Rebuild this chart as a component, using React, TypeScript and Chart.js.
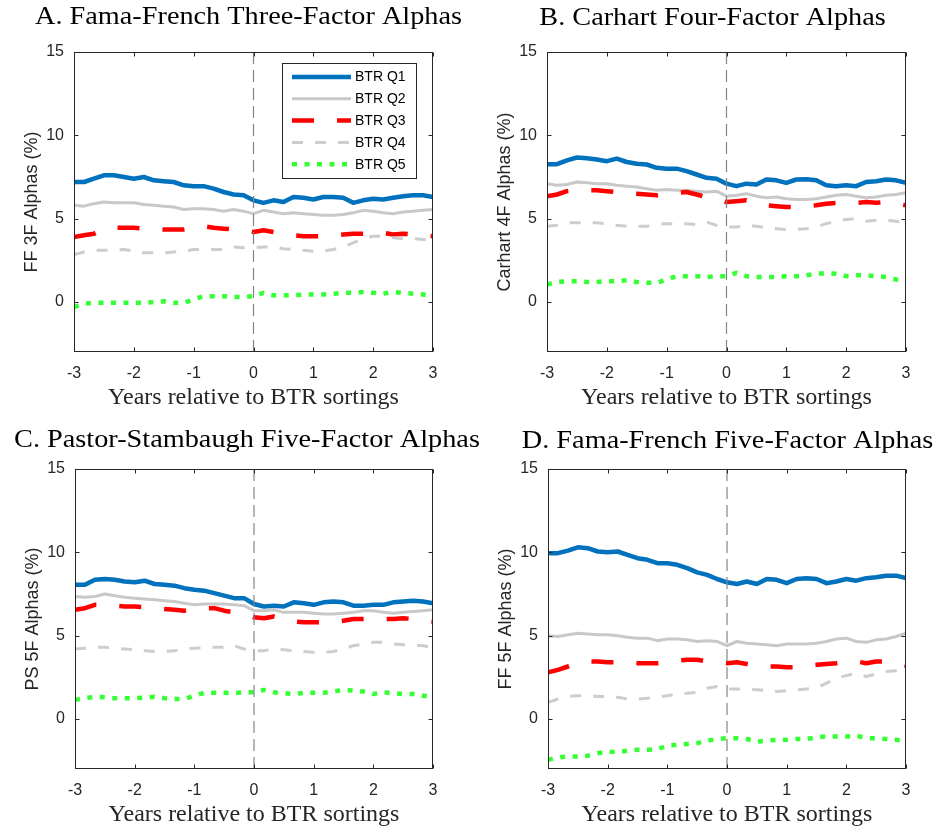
import React, { useEffect, useRef } from "react";
import { Chart, registerables } from "chart.js";

Chart.register(...registerables);

// Months relative to the BTR sorting date (x = months / 12 years)
const MONTHS = [-36, -34, -32, -30, -28, -26, -24, -22, -20, -18, -16, -14, -12, -10, -8, -6, -4, -2, 0, 2, 4, 6, 8, 10, 12, 14, 16, 18, 20, 22, 24, 26, 28, 30, 32, 34, 36];
const X_TICKS = [-3, -2, -1, 0, 1, 2, 3];
const Y_TICKS = [0, 5, 10, 15];
const Y_MIN = -3;
const Y_MAX = 15;
const SERIES_LABELS = ["BTR Q1", "BTR Q2", "BTR Q3", "BTR Q4", "BTR Q5"];
const X_TITLE = "Years relative to BTR sortings";

// Panel A: Fama-French three-factor alphas
const A_Q1 = [7.2, 7.2, 7.4, 7.6, 7.6, 7.5, 7.4, 7.5, 7.3, 7.25, 7.2, 7.0, 6.95, 6.95, 6.8, 6.6, 6.45, 6.4, 6.1, 5.95, 6.1, 6.0, 6.3, 6.25, 6.15, 6.3, 6.3, 6.25, 5.95, 6.1, 6.2, 6.15, 6.25, 6.35, 6.4, 6.4, 6.3];
const A_Q2 = [5.8, 5.75, 5.9, 6.0, 5.95, 5.95, 5.95, 5.85, 5.8, 5.75, 5.7, 5.55, 5.6, 5.6, 5.55, 5.45, 5.55, 5.45, 5.3, 5.5, 5.4, 5.3, 5.35, 5.3, 5.25, 5.2, 5.2, 5.25, 5.35, 5.5, 5.45, 5.35, 5.3, 5.4, 5.45, 5.5, 5.55];
const A_Q3 = [3.9, 4.0, 4.1, 4.4, 4.45, 4.45, 4.45, 4.4, 4.4, 4.35, 4.35, 4.35, 4.45, 4.55, 4.45, 4.4, 4.35, 4.3, 4.2, 4.3, 4.2, 4.1, 4.0, 3.95, 3.95, 3.95, 4.0, 4.05, 4.1, 4.1, 4.2, 4.15, 4.05, 4.1, 4.05, 4.0, 3.95];
const A_Q4 = [2.85, 3.0, 3.1, 3.1, 3.1, 3.15, 3.05, 2.95, 2.95, 2.95, 3.0, 3.05, 3.15, 3.15, 3.15, 3.15, 3.3, 3.25, 3.25, 3.3, 3.3, 3.2, 3.15, 3.1, 3.05, 3.05, 3.15, 3.3, 3.55, 3.8, 3.95, 3.95, 3.85, 3.8, 3.8, 3.75, 3.7];
const A_Q5 = [-0.3, -0.1, -0.05, -0.05, -0.05, -0.05, -0.05, -0.05, 0.0, 0.05, -0.05, -0.05, 0.15, 0.35, 0.35, 0.35, 0.3, 0.3, 0.35, 0.55, 0.4, 0.4, 0.4, 0.45, 0.45, 0.45, 0.5, 0.55, 0.55, 0.6, 0.55, 0.5, 0.6, 0.55, 0.5, 0.45, 0.35];

// Panel B: Carhart four-factor alphas
const B_Q1 = [8.27, 8.27, 8.5, 8.67, 8.62, 8.55, 8.45, 8.6, 8.4, 8.3, 8.25, 8.05, 8.0, 8.0, 7.85, 7.65, 7.45, 7.4, 7.1, 6.95, 7.1, 7.05, 7.35, 7.3, 7.15, 7.35, 7.37, 7.3, 7.0, 6.95, 7.0, 6.95, 7.2, 7.25, 7.35, 7.3, 7.15];
const B_Q2 = [7.1, 7.0, 7.05, 7.2, 7.15, 7.1, 7.1, 7.0, 6.95, 6.9, 6.8, 6.7, 6.75, 6.7, 6.7, 6.65, 6.6, 6.65, 6.35, 6.4, 6.5, 6.35, 6.25, 6.3, 6.2, 6.15, 6.15, 6.2, 6.3, 6.4, 6.45, 6.35, 6.25, 6.3, 6.4, 6.45, 6.55];
const B_Q3 = [6.35, 6.45, 6.65, 6.7, 6.7, 6.7, 6.65, 6.6, 6.55, 6.5, 6.45, 6.4, 6.5, 6.55, 6.6, 6.45, 6.3, 6.2, 6.0, 6.05, 6.1, 5.9, 5.8, 5.75, 5.7, 5.7, 5.75, 5.8, 5.9, 5.95, 5.95, 5.95, 6.0, 5.95, 6.0, 5.9, 5.8];
const B_Q4 = [4.55, 4.6, 4.75, 4.75, 4.75, 4.75, 4.7, 4.6, 4.55, 4.55, 4.55, 4.65, 4.7, 4.7, 4.7, 4.65, 4.8, 4.6, 4.5, 4.5, 4.6, 4.55, 4.45, 4.4, 4.35, 4.35, 4.4, 4.5, 4.7, 4.85, 4.95, 5.0, 4.85, 4.9, 4.9, 4.85, 4.75];
const B_Q5 = [1.05, 1.2, 1.25, 1.25, 1.2, 1.2, 1.25, 1.25, 1.3, 1.2, 1.15, 1.15, 1.35, 1.55, 1.55, 1.55, 1.5, 1.55, 1.55, 1.75, 1.55, 1.5, 1.5, 1.5, 1.55, 1.55, 1.6, 1.7, 1.72, 1.7, 1.55, 1.6, 1.6, 1.55, 1.5, 1.35, 1.3];

// Panel C: Pastor-Stambaugh five-factor alphas
const C_Q1 = [8.05, 8.05, 8.35, 8.4, 8.35, 8.25, 8.2, 8.3, 8.1, 8.05, 8.0, 7.85, 7.75, 7.7, 7.55, 7.4, 7.25, 7.25, 6.9, 6.75, 6.8, 6.75, 7.0, 6.95, 6.85, 7.0, 7.05, 7.0, 6.8, 6.8, 6.85, 6.85, 7.0, 7.05, 7.1, 7.05, 6.95];
const C_Q2 = [7.35, 7.3, 7.35, 7.5, 7.4, 7.3, 7.25, 7.2, 7.15, 7.1, 7.05, 6.95, 6.85, 6.9, 6.9, 6.9, 6.85, 6.8, 6.5, 6.5, 6.55, 6.4, 6.4, 6.4, 6.35, 6.3, 6.3, 6.35, 6.4, 6.5, 6.5, 6.4, 6.35, 6.4, 6.45, 6.5, 6.55];
const C_Q3 = [6.55, 6.65, 6.85, 6.85, 6.8, 6.75, 6.75, 6.7, 6.65, 6.6, 6.55, 6.5, 6.6, 6.65, 6.65, 6.5, 6.4, 6.3, 6.1, 6.05, 6.15, 6.0, 5.85, 5.8, 5.8, 5.8, 5.8, 5.9, 6.0, 6.0, 6.0, 6.0, 6.0, 6.05, 6.0, 5.95, 5.85];
const C_Q4 = [4.2, 4.25, 4.3, 4.3, 4.25, 4.2, 4.15, 4.1, 4.05, 4.05, 4.1, 4.2, 4.25, 4.3, 4.3, 4.3, 4.4, 4.2, 4.1, 4.1, 4.2, 4.15, 4.1, 4.05, 4.0, 4.0, 4.05, 4.2, 4.4, 4.5, 4.6, 4.6, 4.5, 4.45, 4.45, 4.4, 4.3];
const C_Q5 = [1.15, 1.25, 1.33, 1.3, 1.25, 1.25, 1.25, 1.28, 1.33, 1.25, 1.2, 1.2, 1.4, 1.57, 1.57, 1.57, 1.55, 1.6, 1.6, 1.75, 1.6, 1.55, 1.5, 1.57, 1.58, 1.58, 1.65, 1.75, 1.7, 1.65, 1.5, 1.6, 1.55, 1.5, 1.5, 1.4, 1.3];

// Panel D: Fama-French five-factor alphas
const D_Q1 = [9.95, 9.95, 10.1, 10.3, 10.25, 10.05, 10.0, 10.05, 9.85, 9.65, 9.55, 9.35, 9.35, 9.25, 9.05, 8.8, 8.65, 8.4, 8.2, 8.1, 8.25, 8.1, 8.4, 8.35, 8.15, 8.4, 8.45, 8.4, 8.15, 8.25, 8.4, 8.3, 8.45, 8.5, 8.6, 8.6, 8.45];
const D_Q2 = [5.0, 4.95, 5.05, 5.15, 5.1, 5.05, 5.05, 5.0, 4.9, 4.85, 4.85, 4.7, 4.8, 4.8, 4.75, 4.65, 4.7, 4.65, 4.4, 4.65, 4.55, 4.5, 4.45, 4.4, 4.5, 4.5, 4.5, 4.55, 4.65, 4.8, 4.85, 4.65, 4.6, 4.75, 4.8, 4.95, 5.15];
const D_Q3 = [2.8, 2.95, 3.15, 3.35, 3.45, 3.45, 3.4, 3.4, 3.4, 3.35, 3.35, 3.35, 3.4, 3.5, 3.55, 3.55, 3.45, 3.4, 3.35, 3.4, 3.3, 3.2, 3.15, 3.15, 3.1, 3.1, 3.2, 3.25, 3.3, 3.35, 3.45, 3.45, 3.35, 3.45, 3.45, 3.35, 3.2];
const D_Q4 = [1.0, 1.2, 1.35, 1.4, 1.4, 1.35, 1.35, 1.3, 1.2, 1.2, 1.25, 1.3, 1.4, 1.5, 1.55, 1.6, 1.85, 1.95, 1.8, 1.8, 1.8, 1.75, 1.7, 1.65, 1.7, 1.75, 1.8, 1.85, 2.15, 2.45, 2.6, 2.75, 2.55, 2.7, 2.85, 2.9, 2.95];
const D_Q5 = [-2.45, -2.3, -2.25, -2.25, -2.2, -2.05, -1.95, -2.0, -1.9, -1.85, -1.85, -1.8, -1.6, -1.55, -1.5, -1.45, -1.3, -1.2, -1.15, -1.15, -1.2, -1.35, -1.3, -1.25, -1.25, -1.2, -1.2, -1.1, -1.05, -1.05, -1.05, -1.0, -1.15, -1.15, -1.2, -1.25, -1.3];

const SERIES_STYLE = [
  { color: "#0072BD", width: 4.5, dash: [] as number[] },
  { color: "#C8C8C8", width: 3, dash: [] as number[] },
  { color: "#FF0000", width: 4.5, dash: [22, 23] },
  { color: "#CDCDCD", width: 3, dash: [11, 12] },
  { color: "#33FF33", width: 4.5, dash: [5, 7.5] },
];

const AXIS_COLOR = "#262626";
const REF_TITLE = "A. Fama-French Three-Factor Alphas";
const REF_TITLE_WIDTH = 427;

type Spec = {
  title: string;
  yTitle: string;
  series: number[][];
  cx: number; cy: number; cw: number; ch: number;
  L: number; T: number; R: number; B: number;
  titleCx: number; titleBase: number;
  legend: boolean;
};

const PANELS: Spec[] = [
  { title: "A. Fama-French Three-Factor Alphas", yTitle: "FF 3F Alphas (%)", series: [A_Q1, A_Q2, A_Q3, A_Q4, A_Q5],
    cx: 0, cy: 0, cw: 490, ch: 415, L: 74, T: 52, R: 433, B: 352, titleCx: 248.5, titleBase: 24, legend: true },
  { title: "B. Carhart Four-Factor Alphas", yTitle: "Carhart 4F Alphas (%)", series: [B_Q1, B_Q2, B_Q3, B_Q4, B_Q5],
    cx: 467, cy: 0, cw: 468, ch: 415, L: 547, T: 52, R: 906, B: 352, titleCx: 712.5, titleBase: 25, legend: false },
  { title: "C. Pastor-Stambaugh Five-Factor Alphas", yTitle: "PS 5F Alphas (%)", series: [C_Q1, C_Q2, C_Q3, C_Q4, C_Q5],
    cx: 0, cy: 415, cw: 490, ch: 414, L: 75, T: 469, R: 433, B: 769, titleCx: 247, titleBase: 447, legend: false },
  { title: "D. Fama-French Five-Factor Alphas", yTitle: "FF 5F Alphas (%)", series: [D_Q1, D_Q2, D_Q3, D_Q4, D_Q5],
    cx: 467, cy: 415, cw: 468, ch: 414, L: 548, T: 469, R: 906, B: 769, titleCx: 727.5, titleBase: 448, legend: false },
];

const Y_AXIS_W = 53;
const X_AXIS_H = 60;

const framePlugin = {
  id: "frame",
  afterDatasetsDraw(chart: any) {
    const { ctx, chartArea } = chart;
    const xs = chart.scales.x;
    const ys = chart.scales.y;
    const l = Math.round(chartArea.left) + 0.5;
    const r = Math.round(chartArea.right) - 0.5;
    const t = Math.round(chartArea.top) + 0.5;
    const b = Math.round(chartArea.bottom) - 0.5;
    ctx.save();
    ctx.strokeStyle = AXIS_COLOR;
    ctx.lineWidth = 1;
    ctx.setLineDash([]);
    ctx.strokeRect(l, t, r - l, b - t);
    ctx.beginPath();
    X_TICKS.forEach((v) => {
      const px = Math.round(xs.getPixelForValue(v)) + 0.5;
      ctx.moveTo(px, b); ctx.lineTo(px, b - 4);
      ctx.moveTo(px, t); ctx.lineTo(px, t + 4);
    });
    Y_TICKS.forEach((v) => {
      const py = Math.round(ys.getPixelForValue(v)) + 0.5;
      ctx.moveTo(l, py); ctx.lineTo(l + 4, py);
      ctx.moveTo(r, py); ctx.lineTo(r - 4, py);
    });
    ctx.stroke();
    ctx.restore();
  },
  afterDraw(chart: any, _args: any, opts: any) {
    const { ctx } = chart;
    ctx.save();
    // panel title
    ctx.font = '25px "Liberation Serif"';
    const scale = REF_TITLE_WIDTH / ctx.measureText(REF_TITLE).width;
    const w = ctx.measureText(opts.title).width * scale;
    ctx.fillStyle = "#000";
    ctx.textBaseline = "alphabetic";
    ctx.textAlign = "left";
    ctx.translate(opts.titleX - w / 2, opts.titleY);
    ctx.scale(scale, 1);
    ctx.fillText(opts.title, 0, 0);
    ctx.restore();

    if (opts.legend) {
      const ds = chart.data.datasets.filter((d: any) => d.inLegend);
      const bx = 282.5, by = 63.5, bw = 134, bh = 115;
      ctx.save();
      ctx.fillStyle = "#fff";
      ctx.fillRect(bx, by, bw, bh);
      ctx.strokeStyle = AXIS_COLOR;
      ctx.lineWidth = 1;
      ctx.strokeRect(bx, by, bw, bh);
      ds.forEach((d: any, i: number) => {
        const yy = 77 + i * 21.8;
        ctx.beginPath();
        ctx.strokeStyle = d.borderColor;
        ctx.lineWidth = d.borderWidth;
        ctx.setLineDash(d.borderDash || []);
        ctx.lineCap = "butt";
        ctx.moveTo(292, yy);
        ctx.lineTo(351, yy);
        ctx.stroke();
        ctx.setLineDash([]);
        ctx.fillStyle = "#000";
        ctx.font = '14px "Liberation Sans"';
        ctx.textBaseline = "middle";
        ctx.textAlign = "left";
        ctx.fillText(d.label, 355, yy + 0.5);
      });
      ctx.restore();
    }
  },
};

function Panel({ spec }: { spec: Spec }) {
  const ref = useRef<HTMLCanvasElement | null>(null);
  useEffect(() => {
    if (!ref.current) return;
    const datasets: any[] = spec.series.map((vals, i) => ({
      label: SERIES_LABELS[i],
      inLegend: true,
      data: MONTHS.map((m, j) => ({ x: m / 12, y: vals[j] })),
      borderColor: SERIES_STYLE[i].color,
      borderWidth: SERIES_STYLE[i].width,
      borderDash: SERIES_STYLE[i].dash,
      borderCapStyle: "butt",
      borderJoinStyle: "round",
      pointRadius: 0,
      tension: 0,
      fill: false,
      order: 5 - i,
    }));
    datasets.push({
      label: "sorting date",
      inLegend: false,
      data: [{ x: 0, y: Y_MIN }, { x: 0, y: Y_MAX }],
      borderColor: "#858585",
      borderWidth: 1.2,
      borderDash: [12, 6],
      pointRadius: 0,
      fill: false,
      order: 0,
    });
    const padL = spec.L - spec.cx - Y_AXIS_W;
    const padR = spec.cx + spec.cw - spec.R;
    const padT = spec.T - spec.cy;
    const padB = spec.cy + spec.ch - spec.B - X_AXIS_H;
    const chart = new Chart(ref.current, {
      type: "line",
      data: { datasets },
      plugins: [framePlugin as any],
      options: {
        animation: false,
        responsive: false,
        devicePixelRatio: 1,
        events: [],
        layout: { padding: { left: padL, right: padR, top: padT, bottom: padB } },
        scales: {
          x: {
            type: "linear",
            min: -3,
            max: 3,
            afterBuildTicks: (s: any) => { s.ticks = X_TICKS.map((v) => ({ value: v })); },
            afterFit: (s: any) => { s.height = X_AXIS_H; },
            grid: { display: false, drawTicks: false },
            border: { display: false },
            ticks: { font: { family: "Liberation Sans", size: 16 }, color: AXIS_COLOR, padding: 12, maxRotation: 0, autoSkip: false },
            title: { display: true, text: X_TITLE, font: { family: "Liberation Serif", size: 24 }, color: AXIS_COLOR, padding: 0 },
          },
          y: {
            type: "linear",
            min: Y_MIN,
            max: Y_MAX,
            afterBuildTicks: (s: any) => { s.ticks = Y_TICKS.map((v) => ({ value: v })); },
            afterFit: (s: any) => { s.width = Y_AXIS_W; },
            grid: { display: false, drawTicks: false },
            border: { display: false },
            ticks: { font: { family: "Liberation Sans", size: 16 }, color: AXIS_COLOR, padding: 10 },
            title: { display: true, text: spec.yTitle, font: { family: "Liberation Sans", size: 18 }, color: AXIS_COLOR, padding: 0 },
          },
        },
        plugins: {
          legend: { display: false },
          tooltip: { enabled: false },
          title: { display: false },
          frame: {
            title: spec.title,
            titleX: spec.titleCx - spec.cx,
            titleY: spec.titleBase - spec.cy,
            legend: spec.legend,
          },
        } as any,
      },
    });
    return () => chart.destroy();
  }, [spec]);
  return (
    <canvas
      ref={ref}
      width={spec.cw}
      height={spec.ch}
      style={{ position: "absolute", left: spec.cx, top: spec.cy, width: spec.cw, height: spec.ch }}
    />
  );
}

export default function App() {
  return (
    <div style={{ position: "absolute", left: 0, top: 0, width: 935, height: 829, background: "#fff", overflow: "hidden" }}>
      {PANELS.map((p) => (
        <Panel key={p.title} spec={p} />
      ))}
    </div>
  );
}
